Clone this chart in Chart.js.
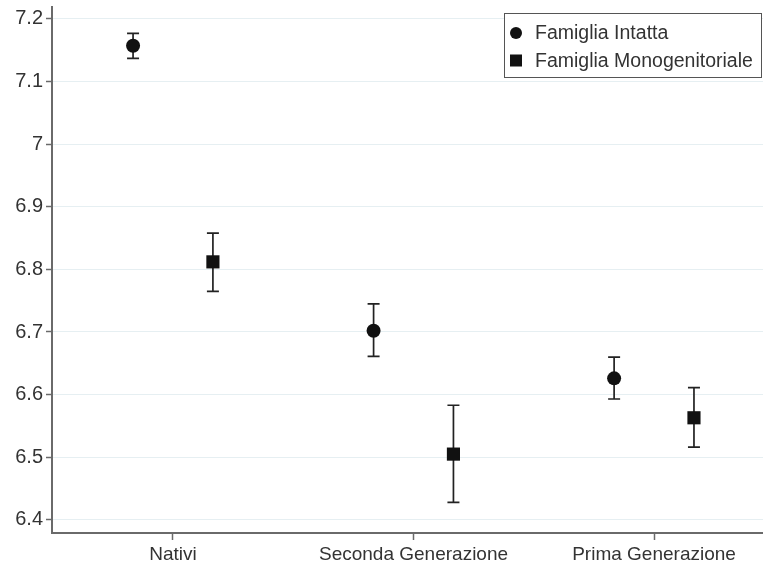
<!DOCTYPE html>
<html>
<head>
<meta charset="utf-8">
<script src="https://cdn.jsdelivr.net/npm/chart.js@4.4.1/dist/chart.umd.min.js"></script>
<style>
  html, body { margin: 0; padding: 0; background: #fff; overflow: hidden; }
  #wrap { width: 763px; height: 569px; }
</style>
</head>
<body>
<div id="wrap"><canvas id="myChart"></canvas></div>
<script>
const groups = ["Nativi", "Seconda Generazione", "Prima Generazione"];

const intattaMean = [7.157, 6.702, 6.626];
const intattaLow = [7.137, 6.661, 6.593];
const intattaHigh = [7.177, 6.745, 6.660];

const monoMean = [6.812, 6.505, 6.563];
const monoLow = [6.765, 6.428, 6.516];
const monoHigh = [6.858, 6.583, 6.611];

const yTicks = [6.4, 6.5, 6.6, 6.7, 6.8, 6.9, 7.0, 7.1, 7.2];

const FONT = "'Liberation Sans', Arial, sans-serif";
const INK = "#111";
const AXIS = "#6a6a6a";
const SHIFT = 0.166; // horizontal dodge of the two family types

const toPoints = (means, lows, highs, dx) =>
  means.map((m, i) => ({ x: i + 1 + dx, y: m, lo: lows[i], hi: highs[i] }));

// whiskers with caps, drawn under the markers
const errorBars = {
  id: "errorBars",
  beforeDatasetsDraw(chart) {
    const c = chart.ctx;
    const xs = chart.scales.x, ys = chart.scales.y;
    c.save();
    c.strokeStyle = "#222";
    c.lineWidth = 1.7;
    chart.data.datasets.forEach((ds) => {
      ds.data.forEach((p) => {
        const px = xs.getPixelForValue(p.x);
        const top = ys.getPixelForValue(p.hi);
        const bot = ys.getPixelForValue(p.lo);
        c.beginPath();
        c.moveTo(px, top); c.lineTo(px, bot);
        c.moveTo(px - 6, top); c.lineTo(px + 6, top);
        c.moveTo(px - 6, bot); c.lineTo(px + 6, bot);
        c.stroke();
      });
    });
    c.restore();
  },
};

// boxed legend in the upper right corner
const boxLegend = {
  id: "boxLegend",
  afterDraw(chart) {
    const c = chart.ctx;
    const left = 504, top = 13, right = 761, bottom = 77;
    c.save();
    c.fillStyle = "#fff";
    c.fillRect(left, top, right - left, bottom - top);
    c.strokeStyle = "#555";
    c.lineWidth = 1;
    c.strokeRect(left + 0.5, top + 0.5, right - left, bottom - top);
    c.font = "19.5px " + FONT;
    c.textBaseline = "middle";
    chart.data.datasets.forEach((ds, i) => {
      const cy = 33 + i * 27.5;
      c.fillStyle = INK;
      if (ds.pointStyle === "circle") {
        c.beginPath();
        c.arc(516, cy, 6, 0, Math.PI * 2);
        c.fill();
      } else {
        c.fillRect(510, cy - 6, 12, 12);
      }
      c.fillStyle = "#333";
      c.fillText(ds.label, 535, cy + 1);
    });
    c.restore();
  },
};

new Chart(document.getElementById("myChart"), {
  type: "scatter",
  data: {
    datasets: [
      {
        label: "Famiglia Intatta",
        data: toPoints(intattaMean, intattaLow, intattaHigh, -SHIFT),
        pointStyle: "circle",
        pointRadius: 7,
        backgroundColor: INK,
        borderColor: INK,
        borderWidth: 0,
      },
      {
        label: "Famiglia Monogenitoriale",
        data: toPoints(monoMean, monoLow, monoHigh, SHIFT),
        pointStyle: "rect",
        pointRadius: 9.3,
        backgroundColor: INK,
        borderColor: INK,
        borderWidth: 0,
      },
    ],
  },
  options: {
    responsive: true,
    maintainAspectRatio: false,
    animation: false,
    layout: { autoPadding: false, padding: { top: 7, left: 0, right: 0, bottom: 0 } },
    plugins: {
      legend: { display: false },
      tooltip: { enabled: false },
    },
    scales: {
      x: {
        type: "linear",
        min: 0.497,
        max: 3.453,
        afterBuildTicks: (s) => { s.ticks = [1, 2, 3].map((v) => ({ value: v })); },
        afterFit: (s) => {
          s.height = 36;
          s.paddingLeft = 0;
          s.paddingRight = 0;
        },
        ticks: {
          color: "#333",
          font: { family: FONT, size: 19 },
          padding: 3,
          callback: (v) => groups[v - 1],
        },
        grid: { drawOnChartArea: false, tickLength: 7, tickColor: AXIS, tickWidth: 1.5 },
        border: { color: AXIS, width: 2 },
      },
      y: {
        min: 6.379,
        max: 7.219,
        afterBuildTicks: (s) => { s.ticks = yTicks.map((v) => ({ value: v })); },
        afterFit: (s) => {
          s.width = 52;
          s.paddingTop = 0;
          s.paddingBottom = 0;
        },
        ticks: {
          color: "#333",
          font: { family: FONT, size: 20 },
          padding: 3,
          callback: (v) => String(Number(v.toFixed(1))),
        },
        grid: { color: "#e6eff2", lineWidth: 1, tickLength: 6, tickColor: AXIS, tickWidth: 1.5 },
        border: { color: AXIS, width: 2 },
      },
    },
  },
  plugins: [errorBars, boxLegend],
});
</script>
</body>
</html>
